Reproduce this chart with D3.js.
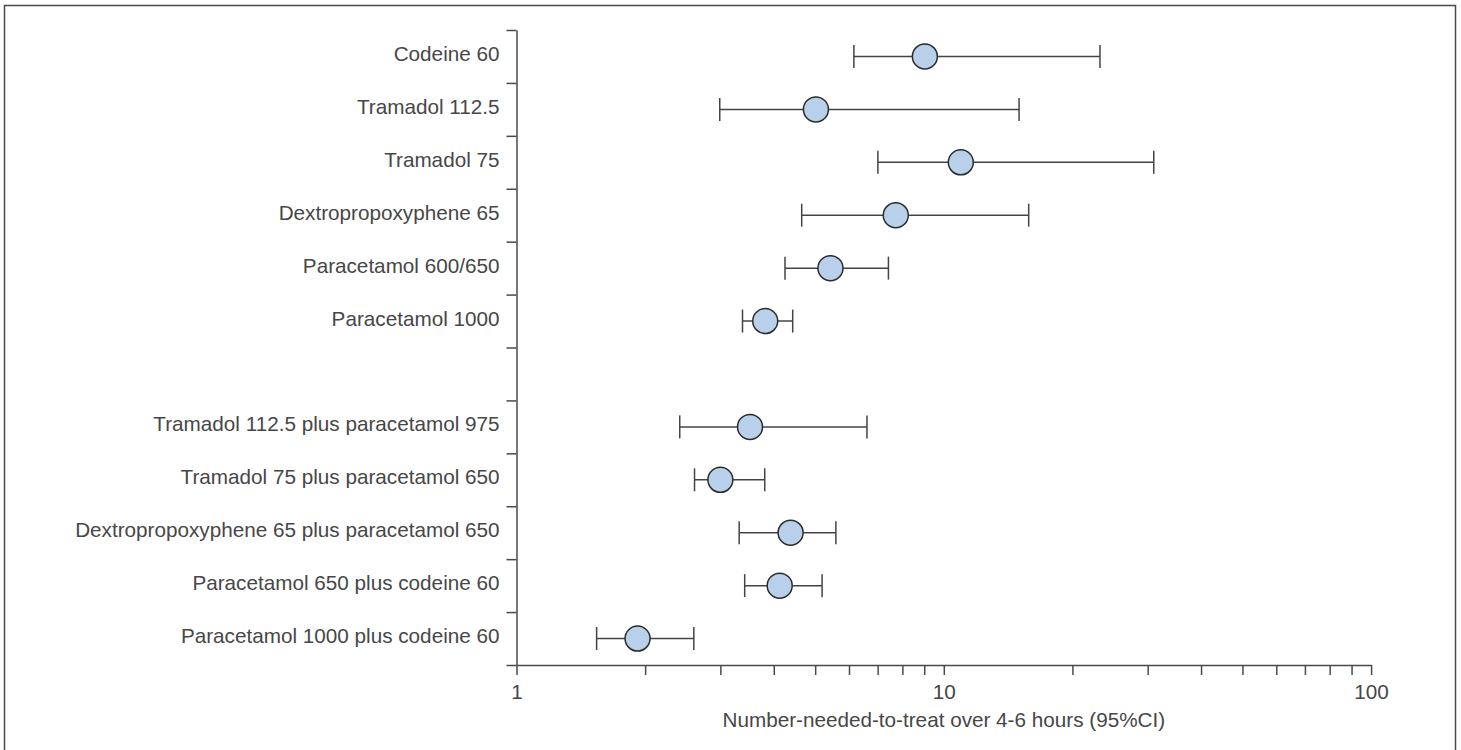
<!DOCTYPE html>
<html>
<head>
<meta charset="utf-8">
<script src="https://cdn.jsdelivr.net/npm/d3@7"></script>
<style>
  body { margin: 0; background: #fff; }
  text { font-family: "Liberation Sans", Arial, Helvetica, sans-serif; fill: #474747; }
  .axis path, .axis line { stroke: #4a4a4a; stroke-width: 1.5; }
</style>
</head>
<body>
<div id="chart"></div>
<script>
// rows top to bottom, "" is the gap between single drugs and combinations
var drugs = [
  "Codeine 60",
  "Tramadol 112.5",
  "Tramadol 75",
  "Dextropropoxyphene 65",
  "Paracetamol 600/650",
  "Paracetamol 1000",
  "",
  "Tramadol 112.5 plus paracetamol 975",
  "Tramadol 75 plus paracetamol 650",
  "Dextropropoxyphene 65 plus paracetamol 650",
  "Paracetamol 650 plus codeine 60",
  "Paracetamol 1000 plus codeine 60"
];
var nnt   = [9.03, 5.02, 10.96, 7.72, 5.43, 3.82, null, 3.52, 3.0, 4.38, 4.13, 1.92];
var lower = [6.16, 2.99, 7.01, 4.65, 4.25, 3.38, null, 2.41, 2.61, 3.32, 3.42, 1.54];
var upper = [23.2, 15, 31, 15.8, 7.42, 4.43, null, 6.61, 3.81, 5.59, 5.19, 2.6];
var xTicks = [1, 2, 3, 4, 5, 6, 7, 8, 9, 10, 20, 30, 40, 50, 60, 70, 80, 90, 100];
var xLabels = [1, 10, 100];

var svgWidth = 1461;
var svgHeight = 750;
var margin = { top: 30, right: 90, bottom: 85, left: 516.5 };
var width = 854.6;
var height = 635;

var svg = d3.select("#chart")
  .append("svg")
  .attr("width", svgWidth)
  .attr("height", svgHeight);

// outer frame (bottom edge runs off the picture)
svg.append("rect")
  .attr("x", 4.5)
  .attr("y", 5.5)
  .attr("width", 1451)
  .attr("height", 800)
  .attr("fill", "none")
  .attr("stroke", "#4a4a4a")
  .attr("stroke-width", 1.5);

var chartGroup = svg.append("g")
  .attr("transform", `translate(${margin.left}, ${margin.top})`);

var data = drugs.map((d, i) => ({ name: d, nnt: nnt[i], lo: lower[i], hi: upper[i] }));

var xScale = d3.scaleLog()
  .domain([1, 100])
  .range([0, width]);

var yScale = d3.scaleBand()
  .domain(drugs)
  .range([0, height]);

var rowEdges = d3.scaleLinear()
  .domain([0, drugs.length])
  .range([0, height]);

// y axis: ticks between rows, labels centred on rows
chartGroup.append("g")
  .attr("class", "axis")
  .call(d3.axisLeft(rowEdges)
    .tickValues(d3.range(drugs.length + 1))
    .tickFormat("")
    .tickSize(10)
    .tickSizeOuter(0));

var yLabels = chartGroup.append("g")
  .call(d3.axisLeft(yScale).tickSize(0).tickPadding(17));
yLabels.select(".domain").remove();
yLabels.selectAll("text")
  .attr("font-size", "20.7px")
  .attr("dy", "0.22em");

// x axis
var bottomAxis = d3.axisBottom(xScale)
  .tickValues(xTicks)
  .tickFormat(d => xLabels.includes(d) ? d : "")
  .tickSize(10)
  .tickPadding(9)
  .tickSizeOuter(0);

var xAxis = chartGroup.append("g")
  .attr("class", "axis")
  .attr("transform", `translate(0, ${height})`)
  .call(bottomAxis);
xAxis.selectAll("text").attr("font-size", "20.7px");

chartGroup.append("text")
  .attr("x", width / 2)
  .attr("y", height + 62)
  .attr("text-anchor", "middle")
  .attr("font-size", "20.7px")
  .text("Number-needed-to-treat over 4-6 hours (95%CI)");

// confidence intervals
var rows = chartGroup.selectAll(".row")
  .data(data.filter(d => d.nnt !== null))
  .enter()
  .append("g")
  .attr("class", "row")
  .attr("transform", d => `translate(0, ${yScale(d.name) + yScale.bandwidth() / 2})`);

rows.append("line")
  .attr("x1", d => xScale(d.lo))
  .attr("x2", d => xScale(d.hi))
  .attr("stroke", "#444")
  .attr("stroke-width", 1.5);

rows.selectAll(".cap")
  .data(d => [d.lo, d.hi])
  .enter()
  .append("line")
  .attr("class", "cap")
  .attr("x1", d => xScale(d))
  .attr("x2", d => xScale(d))
  .attr("y1", -11.5)
  .attr("y2", 11.5)
  .attr("stroke", "#444")
  .attr("stroke-width", 1.5);

rows.append("circle")
  .attr("cx", d => xScale(d.nnt))
  .attr("r", 12.5)
  .attr("fill", "#b9d0ea")
  .attr("stroke", "#2b2b2b")
  .attr("stroke-width", 1.5);
</script>
</body>
</html>
